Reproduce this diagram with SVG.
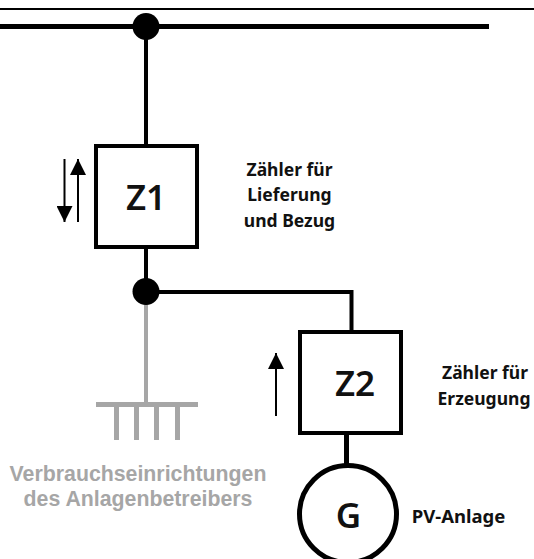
<svg xmlns="http://www.w3.org/2000/svg" width="534" height="559" viewBox="0 0 534 559">
<style>
.k{stroke:#000;fill:none}
.g{stroke:#a6a6a6;fill:none}
.box{fill:#fff;stroke:#000;stroke-width:4}
.dot{fill:#000}
.big{font-family:"Noto Sans","Open Sans",sans-serif;font-weight:600;font-size:35px;fill:#111;text-anchor:middle}
.lab{font-family:"Noto Sans","Open Sans",sans-serif;font-weight:700;font-size:17.500px;fill:#111;text-anchor:middle}
.pv{font-size:18.500px}
.gt{font-family:"Liberation Sans",Arial,sans-serif;font-weight:700;font-size:21.300px;fill:#a6a6a6;text-anchor:middle}
</style>
<defs>
<marker id="a" markerUnits="userSpaceOnUse" markerWidth="16" markerHeight="16" refX="16" refY="8" orient="auto"><path d="M0 0L16 8L0 16Z" fill="#000"/></marker>
</defs>
<g id="connectors">
<path class="k" stroke-width="2" d="M0 9H534"/>
<path class="k" stroke-width="5" d="M0 26.500H489"/>
<path class="k" stroke-width="4" d="M146 26V146M146 249V292M146 292H351.500V332"/>
<path class="k" stroke-width="5" d="M346.500 435V465"/>
<path class="g" stroke-width="4" d="M146 300V403"/>
<path class="g" stroke-width="5" d="M96 404.500H198M116.500 404V440M136.500 404V440M156.500 404V440M177.500 404V440"/>
<path class="k" stroke-width="2" marker-end="url(#a)" d="M64.500 159V222"/>
<path class="k" stroke-width="2" marker-end="url(#a)" d="M78 222V159"/>
<path class="k" stroke-width="2" marker-end="url(#a)" d="M276 416V353"/>
</g>
<g id="bus-junction"><circle class="dot" cx="146" cy="26.500" r="13.500"/></g>
<g id="z1"><rect class="box" x="96" y="146" width="101" height="101"/><text class="big" x="146" y="210">Z1</text></g>
<g id="z1-label"><text class="lab" x="289.500" y="176">Zähler für</text><text class="lab" x="289.500" y="201">Lieferung</text><text class="lab" x="289.500" y="226.500">und Bezug</text></g>
<g id="junction"><circle class="dot" cx="146" cy="291.500" r="13.500"/></g>
<g id="z2"><rect class="box" x="300" y="332" width="101" height="101"/><text class="big" x="355" y="396">Z2</text></g>
<g id="z2-label"><text class="lab" x="485" y="379">Zähler für</text><text class="lab" x="484" y="405">Erzeugung</text></g>
<g id="consumers"><text class="gt" x="138" y="481">Verbrauchseinrichtungen</text><text class="gt" x="138" y="506">des Anlagenbetreibers</text></g>
<g id="generator"><circle cx="348" cy="514" r="48.500" fill="#fff" stroke="#000" stroke-width="5"/><text class="big" x="348.500" y="528">G</text></g>
<g id="generator-label"><text class="lab pv" x="458.500" y="523">PV-Anlage</text></g>
</svg>
